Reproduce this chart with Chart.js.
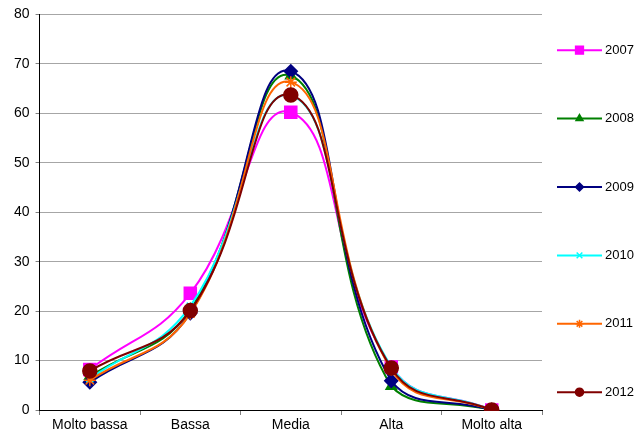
<!DOCTYPE html>
<html>
<head>
<meta charset="utf-8">
<script src="https://cdn.jsdelivr.net/npm/chart.js@4/dist/chart.umd.min.js"></script>
<style>
    html, body { margin: 0; padding: 0; background: #fff; }
    #wrap { width: 636px; height: 435px; }
</style>
</head>
<body>
<div id="wrap"><canvas id="chart"></canvas></div>
<script>
// Categories and values
const categories = ['Molto bassa', 'Bassa', 'Media', 'Alta', 'Molto alta'];
const years = ['2007', '2008', '2009', '2010', '2011', '2012'];
const values2007 = [8.2, 23.6, 60.2, 8.7, 0];
const values2008 = [6.8, 20.3, 67.6, 4.8, 0];
const values2009 = [5.6, 19.6, 68.5, 5.9, 0];
const values2010 = [6.3, 21.0, 63.6, 8.8, 0];
const values2011 = [6.0, 19.5, 66.3, 8.2, 0];
const values2012 = [7.9, 20.1, 63.7, 8.5, 0];
const yTicks = [0, 10, 20, 30, 40, 50, 60, 70, 80];

const seriesValues = [values2007, values2008, values2009, values2010, values2011, values2012];
const colors = ['#ff00ff', '#008000', '#000080', '#00ffff', '#ff6600', '#800000'];
const markers = ['rect', 'triangle', 'rectRot', 'crossRot', 'star', 'circle'];
const markerSizes = [8.5, 6, 6.5, 5, 6, 7];

const FONT = '"Liberation Sans", Arial, sans-serif';

// Draws the line + marker in front of each legend label, like Excel does
const legendLines = {
    id: 'legendLines',
    afterDraw(chart) {
        const legend = chart.legend;
        if (!legend || !legend.legendHitBoxes) return;
        const ctx = chart.ctx;
        legend.legendHitBoxes.forEach((box, i) => {
            const idx = legend.legendItems[i].datasetIndex;
            const ds = chart.data.datasets[idx];
            const cy = box.top + box.height / 2;
            const x0 = box.left + 9;
            const x1 = box.left + 54;
            ctx.save();
            ctx.strokeStyle = ds.borderColor;
            ctx.lineWidth = 2;
            ctx.beginPath();
            ctx.moveTo(x0, cy);
            ctx.lineTo(x1, cy);
            ctx.stroke();
            ctx.fillStyle = ds.borderColor;
            ctx.lineWidth = 1.5;
            Chart.helpers.drawPoint(ctx, {
                pointStyle: ds.pointStyle,
                radius: markers[idx] === 'rect' ? 5.5 : 4,
                rotation: 0,
                borderWidth: 1.5
            }, (x0 + x1) / 2, cy);
            ctx.restore();
        });
    }
};

// later years drawn on top, as in the original
const datasets = years.map((year, i) => ({
    label: year,
    data: seriesValues[i],
    order: years.length - i,
    borderColor: colors[i],
    backgroundColor: colors[i],
    pointStyle: markers[i],
    pointRadius: markerSizes[i],
    pointBorderWidth: 1.5,
    borderWidth: 2,
    tension: 0.45,
    clip: 1
}));

new Chart(document.getElementById('chart'), {
    type: 'line',
    data: { labels: categories, datasets: datasets },
    plugins: [legendLines],
    options: {
        responsive: true,
        maintainAspectRatio: false,
        animation: false,
        layout: { padding: { top: 13, right: 0, left: 8, bottom: 0 } },
        scales: {
            x: {
                offset: true,
                grid: {
                    offset: true,
                    drawOnChartArea: false,
                    tickLength: 5,
                    color: '#808080'
                },
                border: { color: '#000', width: 1 },
                ticks: {
                    color: '#000',
                    padding: 3,
                    maxRotation: 0,
                    font: { family: FONT, size: 14, lineHeight: 1 }
                }
            },
            y: {
                min: yTicks[0],
                max: yTicks[yTicks.length - 1],
                afterBuildTicks: axis => { axis.ticks = yTicks.map(v => ({ value: v })); },
                grid: {
                    color: '#a6a6a6',
                    tickColor: '#808080',
                    tickLength: 4
                },
                border: { color: '#000', width: 1 },
                ticks: {
                    color: '#000',
                    padding: 6,
                    font: { family: FONT, size: 14 }
                }
            }
        },
        plugins: {
            tooltip: { enabled: false },
            legend: {
                position: 'right',
                align: 'start',
                maxWidth: 94,
                labels: {
                    boxWidth: 50.5,
                    boxHeight: 62.4,
                    padding: 6,
                    color: '#000',
                    font: { family: FONT, size: 13 },
                    sort: (a, b) => a.datasetIndex - b.datasetIndex,
                    generateLabels: chart => Chart.defaults.plugins.legend.labels.generateLabels(chart)
                        .map(item => Object.assign(item, { fillStyle: 'rgba(0,0,0,0)', strokeStyle: 'rgba(0,0,0,0)', lineWidth: 0 }))
                }
            }
        }
    }
});
</script>
</body>
</html>
